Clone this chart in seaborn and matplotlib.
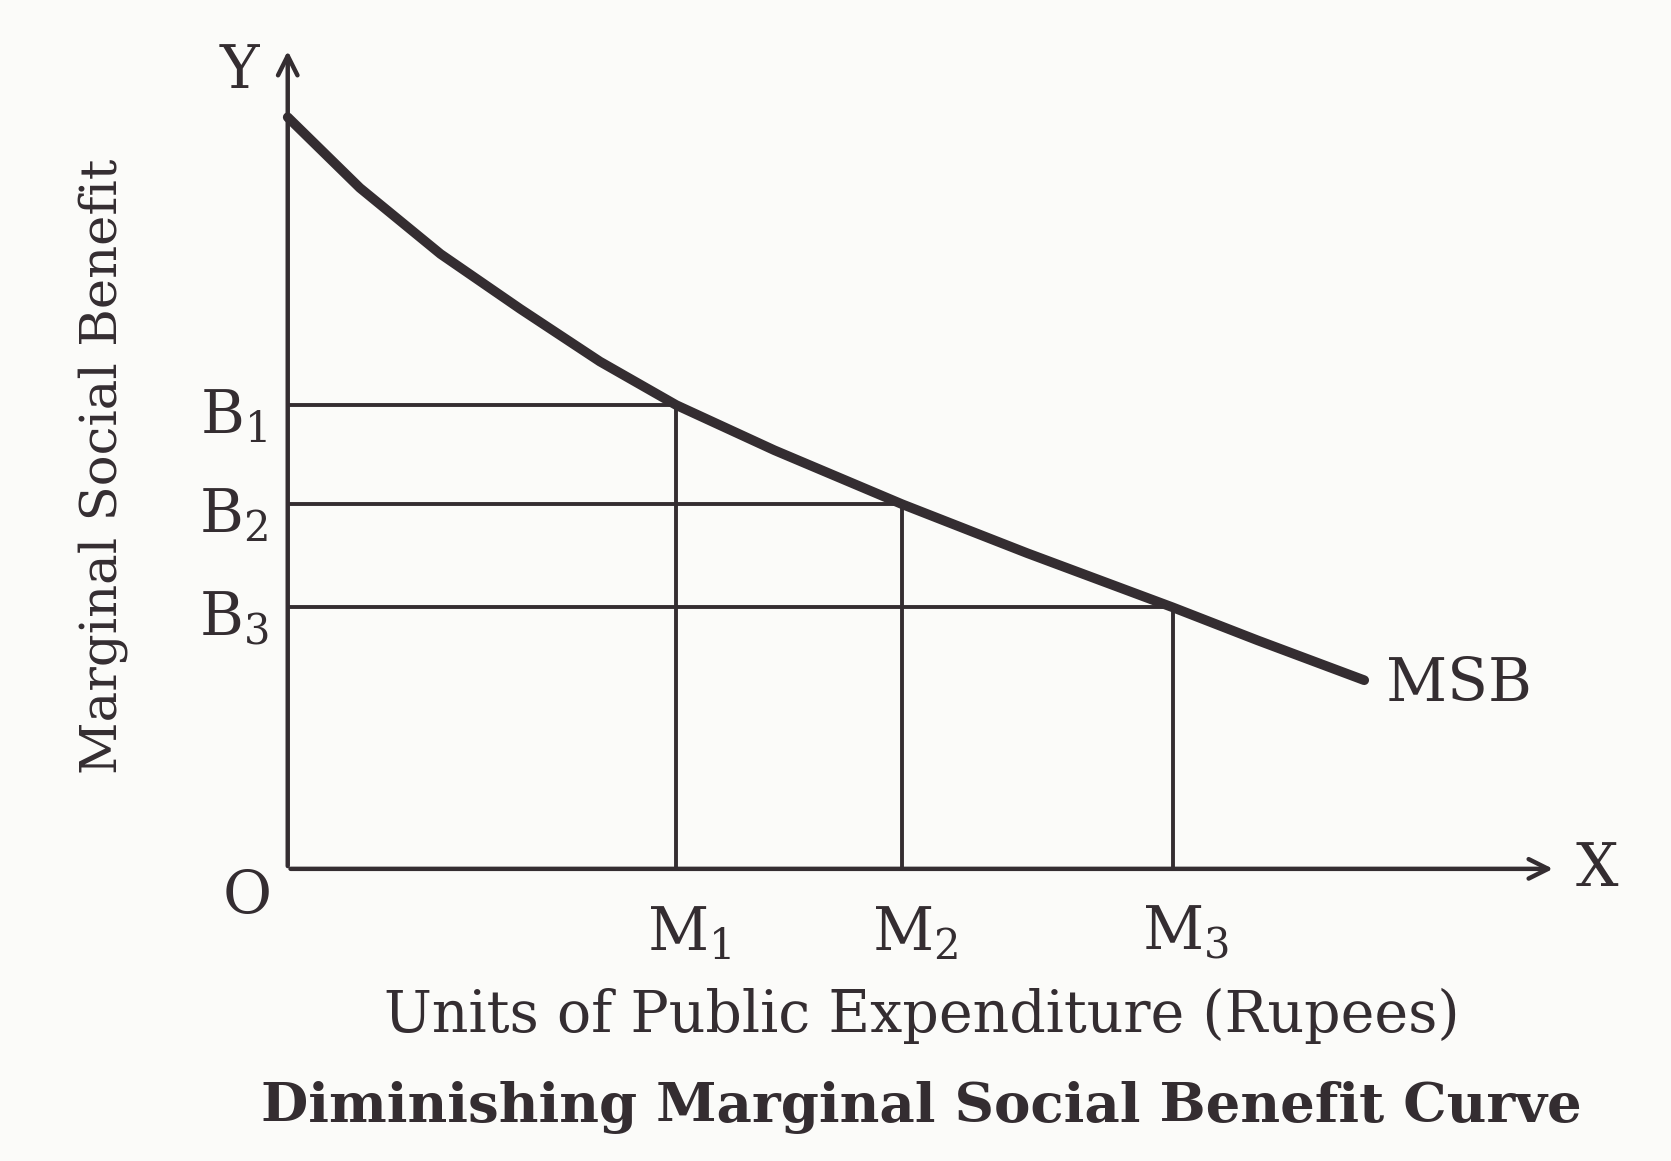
import matplotlib
matplotlib.use("Agg")
import matplotlib.pyplot as plt
import numpy as np
import pandas as pd
import seaborn as sns

# curve (units of expenditure vs marginal social benefit)
msb_x = [0.0, 0.67, 1.42, 2.16, 2.90, 3.61, 4.52, 5.71, 6.87, 8.22, 9.01, 10.0]
msb_y = [10.0, 9.06, 8.18, 7.45, 6.75, 6.17, 5.57, 4.85, 4.20, 3.48, 3.04, 2.51]

# marked points on the curve
m_labels = ["M$_1$", "M$_2$", "M$_3$"]
b_labels = ["B$_1$", "B$_2$", "B$_3$"]
m_vals = [3.61, 5.71, 8.22]
b_vals = [6.17, 4.85, 3.48]

x_axis_end = 11.78
y_axis_end = 10.92

ink = "#342d31"

sns.set_theme(style="white")
plt.rcParams["font.family"] = ["DejaVu Serif"]
plt.rcParams["mathtext.default"] = "regular"

fig = plt.figure(figsize=(16.71, 11.61), dpi=100)
fig.patch.set_facecolor("#fbfbf9")
ax = fig.add_axes([0, 0, 1, 1])
ax.set_facecolor("#fbfbf9")
ax.axis("off")
ax.set_xlim(-2.673, 12.85)
ax.set_ylim(-3.887, 11.56)

# axes with arrow heads
ax.annotate("", xy=(0, y_axis_end), xytext=(0, 0),
            arrowprops=dict(arrowstyle="->", lw=3.2, color=ink, mutation_scale=35))
ax.annotate("", xy=(x_axis_end, 0), xytext=(0, 0),
            arrowprops=dict(arrowstyle="->", lw=3.2, color=ink, mutation_scale=35))

# guide lines
for m, b in zip(m_vals, b_vals):
    sns.lineplot(x=[0, m], y=[b, b], ax=ax, color=ink, lw=2.8, estimator=None, sort=False)
    sns.lineplot(x=[m, m], y=[0, b], ax=ax, color=ink, lw=2.8, estimator=None, sort=False)

# MSB curve
curve = pd.DataFrame({"x": msb_x, "y": msb_y})
sns.lineplot(data=curve, x="x", y="y", ax=ax, color=ink, lw=7, sort=False,
             estimator=None)
for ln in ax.lines:
    ln.set_solid_joinstyle("round")
    ln.set_solid_capstyle("round")

fs = 43
ax.text(-0.45, y_axis_end - 0.3, "Y", fontsize=fs, color=ink, ha="center", va="center")
ax.text(x_axis_end + 0.38, 0.0, "X", fontsize=fs, color=ink, ha="center", va="center")
ax.text(-0.38, -0.38, "O", fontsize=fs, color=ink, ha="center", va="center")
ax.text(msb_x[-1] + 0.2, msb_y[-1] - 0.05, "MSB", fontsize=fs, color=ink, ha="left", va="center")

for m, lab in zip(m_vals, m_labels):
    ax.text(m + 0.12, -0.86, lab, fontsize=fs, color=ink, ha="center", va="center")
for b, lab in zip(b_vals, b_labels):
    ax.text(-0.5, b - 0.15, lab, fontsize=fs, color=ink, ha="center", va="center")

ax.text(-1.72, 5.35, "Marginal Social Benefit", fontsize=37, color=ink,
        rotation=90, ha="center", va="center")
ax.text(5.89, -1.96, "Units of Public Expenditure (Rupees)", fontsize=41,
        color=ink, ha="center", va="center")
ax.text(5.89, -3.17, "Diminishing Marginal Social Benefit Curve", fontsize=39.3,
        color=ink, ha="center", va="center", fontweight="bold")

fig.savefig("out.png", dpi=100, facecolor=fig.get_facecolor())
